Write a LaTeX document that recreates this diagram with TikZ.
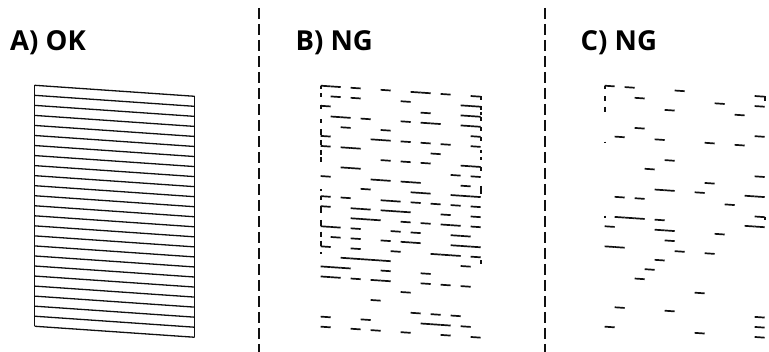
\documentclass[tikz,border=0pt]{standalone}
\usepackage{fontspec}
\setmainfont{Open Sans}
\usetikzlibrary{calc}
\definecolor{inkdark}{HTML}{111111}

\newcommand{\rowgap}{10.04}
\newcommand{\colstep}{0.6875}

\begin{document}
\begin{tikzpicture}[x=1pt,y=-1pt,
    okline/.style={inkdark,line width=1.3pt},
    nozzle/.style={inkdark,line width=1.7pt},
    edgebit/.style={inkdark,line width=1.6pt},
    sepline/.style={inkdark,line width=2.4pt,dash pattern=on 10.7pt off 5.3pt},
    panelhead/.style={anchor=base west,inner sep=0pt,font=\bfseries\fontsize{27.5}{32}\selectfont}]
  \useasboundingbox (0,0) rectangle (769,352);

  \node[panelhead] (headA) at (10,50.5) {A) OK};
  \node[panelhead] (headB) at (295.5,51) {B) NG};
  \node[panelhead] (headC) at (580.5,51) {C) NG};

  \draw[sepline] (259,8) -- (259,352);
  \draw[sepline] (545,8) -- (545,352);

  \foreach \r in {0,...,24} {
    \draw[okline] (34.7,85.3+\rowgap*\r) -- (194.7,96.3+\rowgap*\r);
  }
  \draw[okline] (34.7,85.3) -- (34.7,326.3);
  \draw[okline] (194.7,96.3) -- (194.7,337.3);

  \foreach \r/\cs in {0/{0,1,3,6,9,10,12,15},1/{1,3,8,14,15},2/{0,10,14,15},
      3/{1,2,4,8,10,11,14,15},4/{2,6,15},5/{0,5,6,8,10,12,15},6/{0,2,3,11},
      7/{6,8,10,14,15},8/{2,3,13,15},9/{0,5,6,8,9,14},10/{4,9,10,13,14,15},
      11/{0,2,6,7,9,11,13,15},12/{0,3,4,6,7,8,12,15},13/{3,4,5,8,10,12,13,15},
      14/{0,1,3,7,9,13,14},15/{1,3,6,8,9,13,14,15},16/{0,3,7,11,12,13,15},
      17/{2,3,4,5,6,14},18/{0,1,2,6,10},19/{0,1,3,5,6,10,12,14},20/{8},21/{5},
      22/{9,11,13},23/{0,4,10,11,12,14},24/{0,3,5,8,12,15}} {
    \foreach \k in \cs {
      \draw[nozzle] (320.7+10*\k,85.7+\rowgap*\r+\colstep*\k) -- ++(10,\colstep);
    }
  }
  \foreach \ya/\yb in {85.7/89.3,93.3/97.3,104.7/109.3,119.3/123.3,129.3/135.5,
      140/145.5,150/155,157.3/161.7,189.3/191,196/200.5,206/213,220/226,
      231.7/236.7,240.7/246.3,252.3/254} {
    \draw[edgebit] (320.7,\ya) -- (320.7,\yb);
  }
  \foreach \ya/\yb in {96/100.5,106/110.5,112/115,117/121,127/131.5,137/141.5,
      150/153.5,157.5/160.5,167/171.5,186/194,260.5/264} {
    \draw[edgebit] (480.7,\ya) -- (480.7,\yb);
  }

  \foreach \r/\cs in {0/{0,2,7,15},1/{3,11,15},2/{6,13},4/{3,15},5/{1,5,10,13},
      7/{6},8/{4,15},9/{10},10/{5,6,9,14,15},11/{1,3,12},12/{15},
      13/{1,2,3,5,14,15},14/{0,5,6,11},15/{6},16/{0,1,7,10},17/{5},18/{4},
      19/{3},20/{9},22/{1,6,15},23/{15},24/{0,9,15}} {
    \foreach \k in \cs {
      \draw[nozzle] (604.7+10*\k,85.7+\rowgap*\r+\colstep*\k) -- ++(10,\colstep);
    }
  }
  \foreach \ya/\yb in {85.7/89.5,96.5/100.7,106.7/112.3,141.7/143.5,215.7/217.7} {
    \draw[edgebit] (604.7,\ya) -- (604.7,\yb);
  }
  \foreach \ya/\yb in {96.5/100.7,216.7/219.7} {
    \draw[edgebit] (764.7,\ya) -- (764.7,\yb);
  }
\end{tikzpicture}
\end{document}
